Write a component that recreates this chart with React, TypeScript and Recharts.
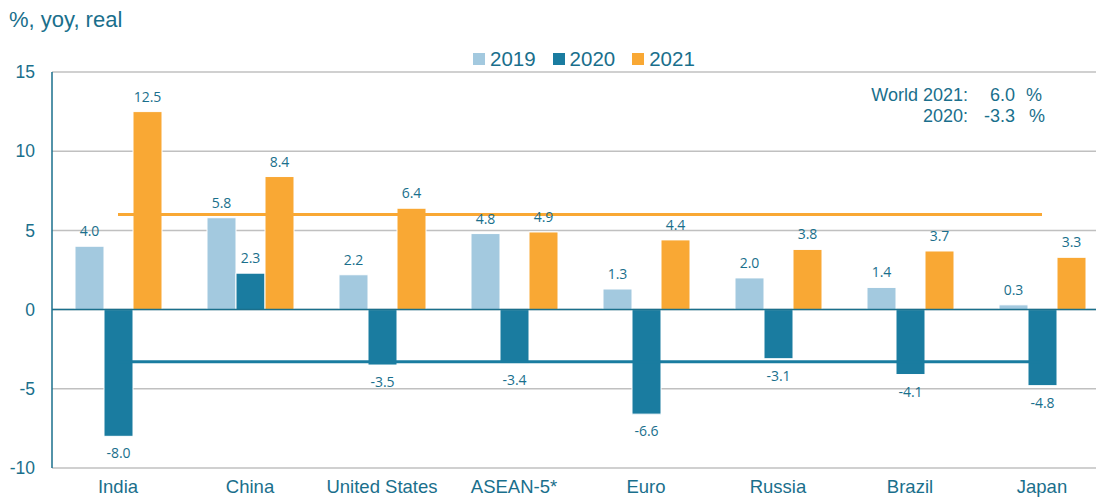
import { Bar, CartesianGrid, ComposedChart, LabelList, Line, ReferenceLine, XAxis, YAxis } from 'recharts';

const categories = ['India', 'China', 'United States', 'ASEAN-5*', 'Euro', 'Russia', 'Brazil', 'Japan'];
const growth2019 = [4.0, 5.8, 2.2, 4.8, 1.3, 2.0, 1.4, 0.3];
const growth2020 = [-8.0, 2.3, -3.5, -3.4, -6.6, -3.1, -4.1, -4.8];
const growth2021 = [12.5, 8.4, 6.4, 4.9, 4.4, 3.8, 3.7, 3.3];
const world2021 = 6.0;
const world2020 = -3.3;
const yTicks = [-10, -5, 0, 5, 10, 15];

const TEXT = '#1a6f8c';
const C2019 = '#a3c9df';
const C2020 = '#1a7ca0';
const C2021 = '#f9a834';

const data = categories.map((name, i) => ({
  name,
  y2019: growth2019[i],
  y2020: growth2020[i],
  y2021: growth2021[i],
  w2021: world2021,
  w2020: world2020,
}));

const BarValueLabel = (props: any) => {
  const { x, y, width, height, value } = props;
  const top = Math.min(y, y + height);
  const bottom = Math.max(y, y + height);
  const ty = value >= 0 ? top - 10 : bottom + 22;
  return (
    <text x={x + width / 2} y={ty} textAnchor='middle' fill={TEXT} fontSize={14} fontFamily='Open Sans'>
      {Number(value).toFixed(1)}
    </text>
  );
};

const legendItems = [
  { label: '2019', color: C2019 },
  { label: '2020', color: C2020 },
  { label: '2021', color: C2021 },
];

export default function App() {
  return (
    <div
      style={{
        position: 'absolute',
        left: 0,
        top: 0,
        width: 1096,
        height: 498,
        overflow: 'hidden',
        background: '#fff',
        fontFamily: '"Liberation Sans", Arial, sans-serif',
        color: TEXT,
      }}
    >
      <div style={{ position: 'absolute', left: 9, top: 7, fontSize: 22 }}>%, yoy, real</div>

      <div style={{ position: 'absolute', left: 473, top: 47, display: 'flex', fontSize: 20.5, lineHeight: '24px' }}>
        {legendItems.map((it) => (
          <div key={it.label} style={{ display: 'flex', alignItems: 'center', marginRight: 17 }}>
            <span style={{ width: 12, height: 12, background: it.color, marginRight: 5 }} />
            <span>{it.label}</span>
          </div>
        ))}
      </div>

      <div style={{ position: 'absolute', left: 850, top: 85, fontSize: 18, lineHeight: '21px' }}>
        <div style={{ display: 'flex' }}>
          <span style={{ width: 118, textAlign: 'right' }}>World 2021:</span>
          <span style={{ width: 47, textAlign: 'right' }}>6.0</span>
          <span style={{ marginLeft: 11 }}>%</span>
        </div>
        <div style={{ display: 'flex' }}>
          <span style={{ width: 118, textAlign: 'right' }}>2020:</span>
          <span style={{ width: 47, textAlign: 'right' }}>-3.3</span>
          <span style={{ marginLeft: 14 }}>%</span>
        </div>
      </div>

      <ComposedChart
        width={1110}
        height={498}
        data={data}
        margin={{ top: 72, right: 2, bottom: 0, left: 0 }}
        barGap={0}
      >
        <CartesianGrid vertical={false} stroke='#c0c0c0' strokeWidth={1.5} />
        <XAxis
          dataKey='name'
          height={30}
          axisLine={false}
          tickLine={false}
          tickSize={0}
          tickMargin={12}
          interval={0}
          tick={{ fill: TEXT, fontSize: 18.5, fontFamily: 'Liberation Sans' }}
        />
        <YAxis
          width={52}
          domain={[-10, 15]}
          ticks={yTicks}
          tickLine={false}
          tickSize={0}
          tickMargin={17}
          axisLine={{ stroke: TEXT, strokeWidth: 1.5 }}
          tick={{ fill: TEXT, fontSize: 17.5, fontFamily: 'Liberation Sans' }}
        />
        <Line
          dataKey='w2021'
          stroke={C2021}
          strokeWidth={3}
          dot={false}
          activeDot={false}
          isAnimationActive={false}
        />
        <Line
          dataKey='w2020'
          stroke={C2020}
          strokeWidth={3}
          dot={false}
          activeDot={false}
          isAnimationActive={false}
        />
        <Bar dataKey='y2019' fill={C2019} stroke='#fff' strokeWidth={1} barSize={29} isAnimationActive={false}>
          <LabelList dataKey='y2019' content={BarValueLabel} />
        </Bar>
        <Bar dataKey='y2020' fill={C2020} stroke='#fff' strokeWidth={1} barSize={29} isAnimationActive={false}>
          <LabelList dataKey='y2020' content={BarValueLabel} />
        </Bar>
        <Bar dataKey='y2021' fill={C2021} stroke='#fff' strokeWidth={1} barSize={29} isAnimationActive={false}>
          <LabelList dataKey='y2021' content={BarValueLabel} />
        </Bar>
        <ReferenceLine y={0} stroke={TEXT} strokeWidth={1.5} />
      </ComposedChart>
    </div>
  );
}
